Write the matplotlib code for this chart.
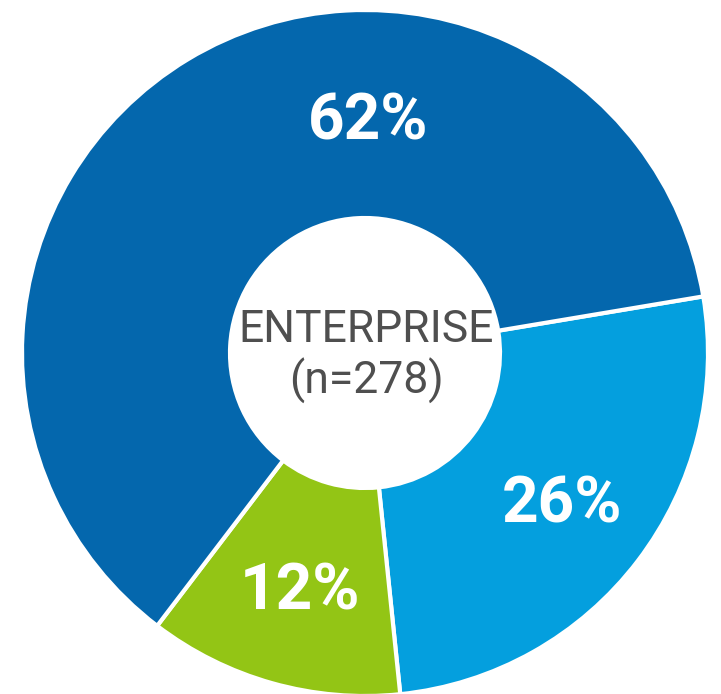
import matplotlib
matplotlib.use("Agg")
import matplotlib.pyplot as plt

# Data
segments = ["Light blue", "Green", "Dark blue"]
values = [26, 12, 62]
value_labels = ["26%", "12%", "62%"]
colors = ["#049FDE", "#93C515", "#0467AD"]
center_title = "ENTERPRISE"
center_sub = "(n=278)"

W, H = 721, 694
fig = plt.figure(figsize=(W / 100, H / 100), dpi=100)
fig.patch.set_facecolor("white")
ax = fig.add_axes([0, 0, 1, 1])

cx, cy = 365, H - 353
R_out, R_in = 343, 135

wedges, _ = ax.pie(values, colors=colors, startangle=9.5, counterclock=False,
                   center=(cx, cy), radius=R_out,
                   wedgeprops=dict(width=R_out - R_in, edgecolor="white", linewidth=3))

# percentage labels (pixel positions in image coords)
label_pos = [(562, 505), (300, 592), (368, 122)]
for txt, (x, y) in zip(value_labels, label_pos):
    ax.text(x, H - y, txt, ha="center", va="center", color="white",
            fontsize=46, fontweight="bold", family=["Roboto", "DejaVu Sans"])

ax.text(cx + 1, H - 330, center_title, ha="center", va="center", color="#4F4F4F",
        fontsize=32, family=["Roboto", "DejaVu Sans"])
ax.text(cx + 1, H - 381, center_sub, ha="center", va="center", color="#4F4F4F",
        fontsize=32, family=["Roboto", "DejaVu Sans"])

ax.set_xlim(0, W)
ax.set_ylim(0, H)
ax.set_aspect("equal")
ax.axis("off")
fig.savefig("out.png", dpi=100, facecolor="white")
